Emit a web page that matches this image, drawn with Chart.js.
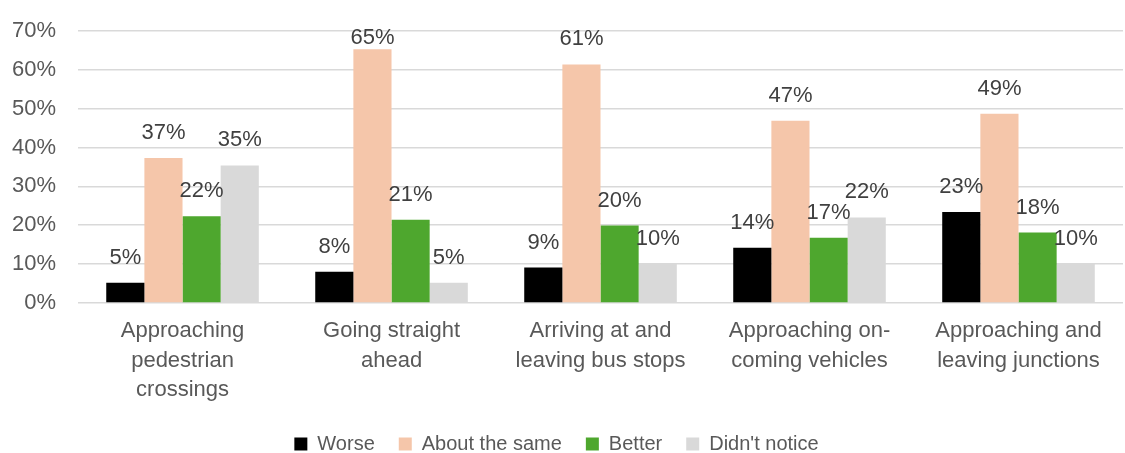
<!DOCTYPE html>
<html>
<head>
<meta charset="utf-8">
<script src="https://cdn.jsdelivr.net/npm/chart.js@4"></script>
<style>
    html, body { margin: 0; padding: 0; background: #fff; }
    #wrap { width: 1125px; height: 453px; }
</style>
</head>
<body>
<div id="wrap"><canvas id="graph"></canvas></div>
<script>
const categories = [
    ["Approaching", "pedestrian", "crossings"],
    ["Going straight", "ahead"],
    ["Arriving at and", "leaving bus stops"],
    ["Approaching on-", "coming vehicles"],
    ["Approaching and", "leaving junctions"]
];
const worse = [5.2, 8.0, 9.1, 14.2, 23.4];
const aboutSame = [37.3, 65.3, 61.4, 46.9, 48.7];
const better = [22.3, 21.4, 19.9, 16.8, 18.1];
const didntNotice = [35.4, 5.2, 10.1, 22.0, 10.1];

const canvas = document.getElementById('graph');
const textColor = '#595959';
const fontFamily = '"Liberation Sans", Arial, sans-serif';

// labels drawn above each bar, kept inside the plot at the top
const barLabels = {
    id: 'barLabels',
    afterDatasetsDraw(chart) {
        const ctx = chart.ctx;
        const top = chart.chartArea.top;
        ctx.save();
        ctx.font = '22px ' + fontFamily;
        ctx.fillStyle = '#404040';
        ctx.textAlign = 'center';
        ctx.textBaseline = 'middle';
        chart.data.datasets.forEach((ds, i) => {
            chart.getDatasetMeta(i).data.forEach((bar, j) => {
                const y = Math.max(bar.y - 25, top + 7);
                ctx.fillText(Math.round(ds.data[j]) + '%', bar.x, y);
            });
        });
        ctx.restore();
    }
};

const data = {
    labels: categories,
    datasets: [
        { label: "Worse", data: worse, backgroundColor: "#000000" },
        { label: "About the same", data: aboutSame, backgroundColor: "#F5C6AA" },
        { label: "Better", data: better, backgroundColor: "#4EA72E" },
        { label: "Didn't notice", data: didntNotice, backgroundColor: "#D9D9D9" }
    ]
};

let options = {
    responsive: true,
    maintainAspectRatio: false,
    animation: false,
    layout: {
        padding: { top: 31, right: 2, left: -10, bottom: -11 }
    },
    datasets: {
        bar: {
            categoryPercentage: 0.73,
            barPercentage: 1.0
        }
    },
    plugins: {
        tooltip: { enabled: false },
        legend: {
            position: 'bottom',
            labels: {
                color: textColor,
                boxWidth: 13,
                boxHeight: 13,
                padding: 24,
                font: { size: 20, family: fontFamily }
            }
        }
    },
    scales: {
        x: {
            grid: { display: false },
            border: { display: false },
            ticks: {
                color: textColor,
                padding: 6,
                maxRotation: 0,
                font: { size: 22, family: fontFamily, lineHeight: 1.32 }
            }
        },
        y: {
            min: 0,
            max: 70,
            border: { display: false },
            grid: {
                color: '#D9D9D9',
                lineWidth: 1.5,
                drawTicks: false
            },
            afterFit: function (scale) {
                scale.paddingTop = 0;
            },
            ticks: {
                stepSize: 10,
                color: textColor,
                padding: 22,
                font: { size: 22, family: fontFamily },
                callback: function (value) {
                    return value + '%';
                }
            }
        }
    }
};

let chart = new Chart(canvas, {
    type: "bar",
    data: data,
    options: options,
    plugins: [barLabels]
});
</script>
</body>
</html>
